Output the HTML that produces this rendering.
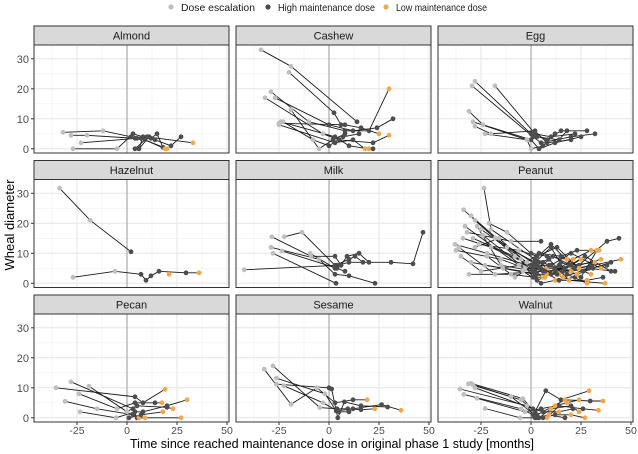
<!DOCTYPE html>
<html><head><meta charset="utf-8"><style>
html,body{margin:0;padding:0;background:#fff;}
svg{display:block;font-family:"Liberation Sans",Arial,sans-serif;}
</style></head><body>
<svg id="chart" width="638" height="454" viewBox="0 0 638 454" xmlns="http://www.w3.org/2000/svg">
<g>
<circle cx="171" cy="7" r="2.6" fill="#bebebe"/>
<text x="181" y="11" font-size="10.5" textLength="74" lengthAdjust="spacingAndGlyphs" fill="#1a1a1a">Dose escalation</text>
<circle cx="268" cy="7" r="2.6" fill="#4d4d4d"/>
<text x="278" y="11" font-size="10.5" textLength="97" lengthAdjust="spacingAndGlyphs" fill="#1a1a1a">High maintenance dose</text>
<circle cx="386" cy="7" r="2.6" fill="#f4a64a"/>
<text x="396" y="11" font-size="10.5" textLength="91" lengthAdjust="spacingAndGlyphs" fill="#1a1a1a">Low maintenance dose</text>
</g>
<text transform="translate(14,225) rotate(-90)" text-anchor="middle" font-size="13" fill="#000">Wheal diameter</text>
<text x="332" y="448" text-anchor="middle" font-size="13" textLength="404" lengthAdjust="spacingAndGlyphs" fill="#000">Time since reached maintenance dose in original phase 1 study [months]</text>
<g id="panels"></g>
</svg>
<script>
const panelNames = ["Almond","Cashew","Egg","Hazelnut","Milk","Peanut","Pecan","Sesame","Walnut"];
const xTicks = [-25,0,25,50];
const yTicks = [0,10,20,30];
const phaseNames = ["Dose escalation","High maintenance dose","Low maintenance dose"];
const almond = [
 [[-32,5.5,0],[-12,6,0],[2,4,1],[7,3.5,1],[20,0,2]],
 [[-28,4.5,0],[-20,4.5,0],[4,3.5,1],[10,4,1],[33,2,2]],
 [[-23,2,0],[5,3.5,1],[12,3.5,1],[15,5,1],[18,0.5,1]],
 [[-27,0,0],[-5,0,0],[3,5,1],[8,4,1],[6,0,1],[11,4,1],[14,3,1],[22,1,1],[27,4,1]],
 [[4,0,1],[9,3,1],[19,0,2]]];
const cashew = [
 [[-34,33,0],[-19,27.5,0],[14,9,1]],
 [[-20,25.5,0],[2.5,12,1],[6,8,1]],
 [[-29,19,0],[-10,9,0],[8,6,1],[20,6,1],[30,20,2]],
 [[-32,17,0],[-3,5,0],[5,3,1],[22,2,1],[30,4.5,2]],
 [[-27,17,0],[0,8,1],[12,6,1],[24,7,1],[32,10,1]],
 [[-25,8.5,0],[8,8,1],[16,7,1],[25,5,2]],
 [[-24,9,0],[3,4,1],[10,1,1],[20,0,2],[22,0,1]],
 [[-19,13,0],[-5,0,0],[2,3,1],[8,5,1]],
 [[-23,9,0],[-8,3,0],[0,1,1],[7,4,1],[15,5,1]],
 [[-25,8,0],[3,2,1],[12,3,1],[18,0,2]]];
const egg = [
 [[-28,22.5,0],[0,5,1],[8,3,1],[15,6,1],[28,6,1]],
 [[-29.5,21,0],[1,4,1],[5,2,1],[20,4,1],[32,5,1]],
 [[-18,21,0],[2,5,1],[10,4,1],[22,5,1]],
 [[-31,12.5,0],[-24,8,0],[0,3,1],[4,0,1],[12,2,1],[25,4,1]],
 [[-29,9,0],[-2,3,0],[3,4,1],[14,3,1],[18,6,1]],
 [[-28,7.5,0],[-20,5,0],[2,6,1],[8,2,1],[20,3,1]],
 [[-23,5,0],[-2,3,0],[0,0,0],[6,1,1],[12,5,1]]];
const hazelnut = [
 [[-33.7,31.7,0],[-18.4,21,0],[2,10.5,1]],
 [[-27,2,0],[-6,4,0],[7,3,1],[9.5,1,1],[12,2.5,1],[16,4,1],[29.5,3.5,1],[36,3.5,2]],
 [[21,3,2]]];
const milk = [
 [[-42.4,4.5,0],[4,6,1],[10,7,1],[31,7,1],[42,6.5,1],[47,17,1]],
 [[-28.6,15.5,0],[-9,9,0],[3,9,1],[6,6,1],[9,9,1],[15,10,1],[20,7,1]],
 [[-22.4,15.5,0],[-13.5,17,0],[3,6,1],[10,8,1],[13,9,1],[17,7,1]],
 [[-29,12,0],[-5,8,0],[3,3,1],[10,2.5,1],[23,0,1]],
 [[-28,10,0],[3.5,0,1]],
 [[-23.5,10.8,0],[4,5,1],[8,4,1]],
 [[-9.4,10,0],[3,5,1],[6,6,1]]];
const peanut = [
 [[-23.5,31.7,0],[-20,18,0],[2,8,1],[10,13,1],[22,5,1],[38,14,1],[44,15,1]],
 [[-33.7,24.5,0],[-18,15,0],[3,6,1],[8,3,2],[16,4,1],[30,6,1]],
 [[-38,13,0],[-22,10,0],[4,5,1],[12,4,1],[21,8,2],[30,11,2]],
 [[-37.5,11,0],[-15,8,0],[1,4,1],[6,2,2],[14,6,1],[25,2,1],[33,11,2]],
 [[-30,22.5,0],[-12,12,0],[2,7,1],[10,12,1],[18,3,1],[28,0,2]],
 [[-28,21,0],[-8,9,0],[3,3,1],[14,3,2],[24,6,1],[35,8,2]],
 [[-32,17,0],[-10,14,0],[5,14,1]],
 [[-29,15,0],[-5,8,0],[1,2,1],[7,2,2],[15,7,1],[26,4,2],[40,7,1]],
 [[-34,15,0],[-20,12,0],[0,6,1],[9,8,1],[19,1,2],[37,0,2]],
 [[-27,19,0],[-15,6,0],[2,4,1],[11,9,1],[20,6,1],[32,7,2]],
 [[-35,9,0],[-25,4,0],[4,7,1],[8,5,2],[17,5,1],[27,9,1],[40,4,1]],
 [[-31,3,0],[-10,3,0],[2,2,1],[5,0,1],[12,1,2],[22,2,1]],
 [[-26,13,0],[-6,11,0],[3,9,1],[13,12,1],[24,5,2],[45,8,2]],
 [[-24,16,0],[-3,5,0],[5,5,1],[16,2,2],[29,5,1],[42,4,1]],
 [[-22,9,0],[-8,2,0],[1,6,1],[10,6,1],[20,10,1],[35,5,2]],
 [[-36,12,0],[-18,3,0],[6,4,1],[14,1,1],[28,1,2],[36,2,1]],
 [[-21,20,0],[-12,17,0],[0,10,1],[8,9,1],[18,8,2],[26,4,1]],
 [[-30,7,0],[-14,5,0],[2,3,1],[9,6,1],[23,3,2],[31,5,1]],
 [[-25,18,0],[-2,7,0],[4,10,1],[15,9,1],[23,11,1],[34,11,2]],
 [[-33,19,0],[-6,6,0],[6,7,1],[12,5,1],[20,4,2],[38,6,1]],
 [[-28,12,0],[-16,15,0],[1,5,1],[7,4,1],[13,3,1],[25,8,2]],
 [[-23,6,0],[-4,4,0],[3,1,1],[10,3,1],[19,6,1],[30,3,2]]];
const pecan = [
 [[-35.5,10,0],[4,7,1],[8,5,1],[19,9.5,2]],
 [[-28,12,0],[3,3,1],[5,0,1],[27,0,2]],
 [[-19,10.5,0],[0,2,0],[5,4,1],[20,3.5,1],[23,3,2]],
 [[-24,8,0],[-5,3,0],[4,5,1],[14,5,1],[17.5,5,2]],
 [[-31,5.5,0],[-15,3,0],[3,1,1],[6,0,2],[9,0,2]],
 [[-23.5,2,0],[-5.5,0,0],[4,2,1],[8,2,1],[20,4,1],[30,6,2]],
 [[1,0,1],[7,1,1],[18,2,2]]];
const sesame = [
 [[-32.4,16.2,0],[-19,4.5,0],[-6,10,0],[3,5,1],[12,6,1],[19,6,2]],
 [[-28,17.3,0],[-4.6,3.4,0],[4,3,1],[9.4,3,1],[16,2.7,1],[22.9,3,2]],
 [[-26.3,13.2,0],[-2,8,0],[3.6,2.3,1],[12,3,1],[26.3,4.4,1],[36,2.5,2]],
 [[-26.3,11.2,0],[0,10,1],[1.3,9.6,1],[4.4,0,1],[7.7,5.3,1],[16,4,1],[29.3,3.6,1]],
 [[-22.7,10.7,0],[-3,5,0],[5,2,1],[10,2,1]]];
const walnut = [
 [[-31.3,11.3,0],[-5,6,0],[2,2,1],[7.4,9,1],[15,6,1],[29,9,2]],
 [[-30,11.5,0],[-4,6.4,0],[3,1,1],[17,6,2],[29.6,5.6,1],[36,5.6,2]],
 [[-29,11,0],[-10,7,0],[4,0,1],[10,3,2],[20,4,1],[24,2,2]],
 [[-35.5,9.6,0],[-2,4,0],[2,0,1],[8,0,2],[14,4,1],[26,3,1],[33.7,2.5,2]],
 [[-33.6,7.8,0],[-5,3,0],[1,1,1],[6,0,1],[12,1,1],[20,1,2],[27,0,2]],
 [[-23,3.1,0],[-5.4,0,0],[3,0,1],[9,1,2],[17,0,1]],
 [[-27,6.5,0],[-3,2,0],[5,3,1],[12,4,2],[18,5,2],[24,6,2]],
 [[-28,10,0],[1,3,1],[6,2,1],[14,2,2],[21,3,1]]];
const panelData = [almond,cashew,egg,hazelnut,milk,peanut,pecan,sesame,walnut];

const NS="http://www.w3.org/2000/svg";
const colors=["#bebebe","#4d4d4d","#f4a64a"];
const colLeft=[34,236,438], stripTop=[26,160.5,295];
const W=195, SH=19, PH=108, XMIN=-46.5, YMAX=34.6;
function mk(tag,attrs,parent){const e=document.createElementNS(NS,tag);for(const k in attrs)e.setAttribute(k,attrs[k]);parent.appendChild(e);return e;}
const root=document.getElementById('panels');
panelNames.forEach((name,i)=>{
  const c=i%3,r=Math.floor(i/3);
  const L=colLeft[c], T=stripTop[r]+SH;
  const sx=v=>L+(v-XMIN)*2;
  const sy=v=>T+(YMAX-v)*3;
  const g=mk('g',{},root);
  
  
  const bg=mk('rect',{x:L,y:T,width:W,height:PH,fill:'#fff'},g);
  
  
  [-37.5,-12.5,12.5,37.5].forEach(v=>{const l=mk('line',{x1:sx(v),x2:sx(v),y1:T,y2:T+PH,stroke:'#f0f0f0','stroke-width':0.6},g);});
  [5,15,25].forEach(v=>{const l=mk('line',{x1:L,x2:L+W,y1:sy(v),y2:sy(v),stroke:'#f0f0f0','stroke-width':0.6},g);});
  xTicks.forEach(v=>{const l=mk('line',{x1:sx(v),x2:sx(v),y1:T,y2:T+PH,stroke:'#e6e6e6','stroke-width':1},g);});
  yTicks.forEach(v=>{const l=mk('line',{x1:L,x2:L+W,y1:sy(v),y2:sy(v),stroke:'#e6e6e6','stroke-width':1},g);});
  const z=mk('line',{x1:sx(0),x2:sx(0),y1:T,y2:T+PH,stroke:'#9a9a9a','stroke-width':1},g);
  
  
  panelData[i].forEach((traj,k)=>{
    const pl=mk('polyline',{points:traj.map(p=>sx(p[0])+','+sy(p[1])).join(' '),fill:'none',stroke:'#1a1a1a','stroke-width':0.9},g);
    
    
  });
  panelData[i].forEach(traj=>traj.forEach(p=>{
    const ci=mk('circle',{cx:sx(p[0]),cy:sy(p[1]),r:2.4,fill:colors[p[2]]},g);
    
    
  }));
  const br=mk('rect',{x:L,y:T,width:W,height:PH,fill:'none',stroke:'#333','stroke-width':1},g);
  
  
  const st=mk('rect',{x:L,y:stripTop[r],width:W,height:SH,fill:'#d9d9d9',stroke:'#333','stroke-width':1},g);
  
  
  const tx=mk('text',{x:L+W/2,y:stripTop[r]+13.5,'text-anchor':'middle','font-size':11,fill:'#1a1a1a'},g);
  
  
  tx.textContent=name;
  if(c===0){yTicks.forEach(v=>{
    const tk=mk('line',{x1:L-3,x2:L,y1:sy(v),y2:sy(v),stroke:'#333'},g);
    
    
    const t=mk('text',{x:L-5,y:sy(v)+4,'text-anchor':'end','font-size':11,fill:'#4d4d4d'},g);
    
    
    t.textContent=v;});}
  if(r===2){xTicks.forEach(v=>{
    const tk=mk('line',{x1:sx(v),x2:sx(v),y1:T+PH,y2:T+PH+3,stroke:'#333'},g);
    
    
    const t=mk('text',{x:sx(v),y:T+PH+12,'text-anchor':'middle','font-size':10.5,fill:'#4d4d4d'},g);
    
    
    t.textContent=v;});}
});
</script>
</body></html>
